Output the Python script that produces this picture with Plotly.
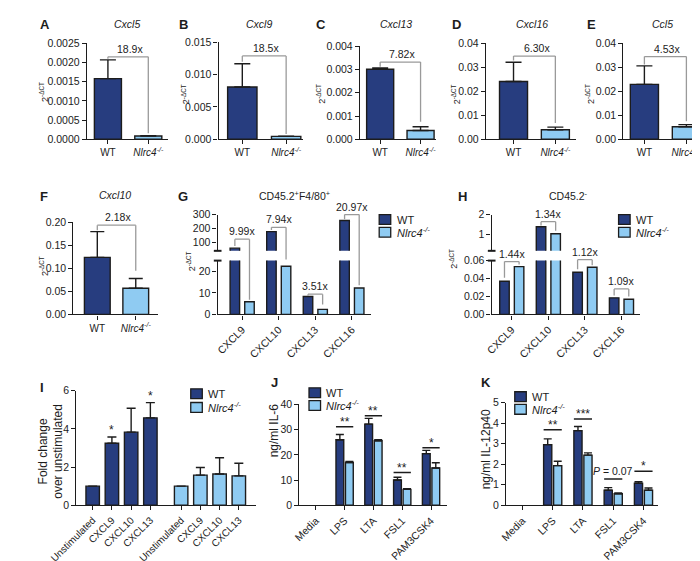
import plotly.graph_objects as go

W, H = 700, 561
WT_C = "#273d7f"
KO_C = "#8fcbf2"
INK = "#1c1c1c"
GRAY = "#9a9a9a"
FONT = "Liberation Sans, Arial, Helvetica, sans-serif"
KO_NAME = "<i>Nlrc4<sup>-/-</sup></i>"

# ---------------- data ----------------
genotypes = ["WT", KO_NAME]

cxcl5_mean = [0.00158, 0.000084]
cxcl5_err = [0.00049, 0.00001]
cxcl9_mean = [0.0081, 0.00044]
cxcl9_err = [0.0036, 0.00003]
cxcl13_mean = [0.00301, 0.00038]
cxcl13_err = [0.00006, 0.00016]
cxcl16_mean = [0.0241, 0.00395]
cxcl16_err = [0.0080, 0.0011]
ccl5_mean = [0.0229, 0.0052]
ccl5_err = [0.0077, 0.0009]
cxcl10_mean = [0.124, 0.057]
cxcl10_err = [0.056, 0.021]
fold_top = ["18.9x", "18.5x", "7.82x", "6.30x", "4.53x", "2.18x"]

chemokines = ["CXCL9", "CXCL10", "CXCL13", "CXCL16"]
g_wt = [59, 178, 8.3, 258]
g_ko = [5.9, 22.4, 2.36, 12.3]
g_fold = ["9.99x", "7.94x", "3.51x", "20.97x"]
h_wt = [0.037, 1.40, 0.047, 0.0185]
h_ko = [0.0533, 1.045, 0.0526, 0.0170]
h_fold = ["1.44x", "1.34x", "1.12x", "1.09x"]

stim_labels = ["Unstimulated", "CXCL9", "CXCL10", "CXCL13"]
i_wt = [1.0, 3.25, 3.83, 4.58]
i_wt_err = [0, 0.33, 1.25, 0.80]
i_ko = [1.0, 1.58, 1.64, 1.54]
i_ko_err = [0, 0.40, 0.85, 0.66]
i_stars_wt = ["", "*", "", "*"]

tlr_ligands = ["Media", "LPS", "LTA", "FSL1", "PAM3CSK4"]
il6_wt = [None, 26.0, 32.2, 10.0, 20.5]
il6_wt_err = [0, 2.1, 2.3, 1.1, 1.3]
il6_ko = [None, 17.0, 25.6, 6.3, 14.8]
il6_ko_err = [0, 0.4, 0.4, 0.3, 2.1]
il6_sig = ["", "**", "**", "**", "*"]
il12_wt = [None, 2.95, 3.63, 0.73, 1.07]
il12_wt_err = [0, 0.28, 0.20, 0.13, 0.08]
il12_ko = [None, 1.93, 2.44, 0.56, 0.73]
il12_ko_err = [0, 0.21, 0.11, 0.04, 0.11]
il12_sig = ["", "**", "***", "<i>P</i> = 0.07", "*"]

# ---------------- helpers ----------------
fig = go.Figure()
LAY = {}
shapes = []
anns = []
n_ax = [0]


def fx(p):
    return p / W


def fy(p):
    return 1 - p / H


def text(t, x, y, size=10.5, xanchor="center", yanchor="middle", angle=0, bold=False):
    if bold:
        t = f"<b>{t}</b>"
    anns.append(dict(text=t, x=fx(x), y=fy(y), xref="paper", yref="paper", showarrow=False,
                     xanchor=xanchor, yanchor=yanchor, textangle=angle,
                     font=dict(size=size, color=INK, family=FONT)))


def axes(xpx, ypx, xr, yr, yticks, yfmt, xcfg=None, show_x=True, xfont=10.5):
    n_ax[0] += 1
    n = n_ax[0]
    s = "" if n == 1 else str(n)
    tf = dict(size=10.5, color=INK, family=FONT)
    xa = dict(domain=[fx(xpx[0]), fx(xpx[1])], range=xr, anchor="y" + s, showgrid=False,
              zeroline=False, visible=show_x, showline=True, linecolor=INK, linewidth=1.4,
              ticks="outside", ticklen=4, tickwidth=1.2, tickcolor=INK,
              tickfont=dict(size=xfont, color=INK, family=FONT), fixedrange=True)
    if xcfg:
        xa.update(xcfg)
    ya = dict(domain=[fy(ypx[1]), fy(ypx[0])], range=yr, anchor="x" + s, showgrid=False,
              zeroline=False, showline=True, linecolor=INK, linewidth=1.4, ticks="outside",
              ticklen=4, tickwidth=1.2, tickcolor=INK, tickvals=yticks,
              ticktext=[format(v, yfmt) for v in yticks], tickfont=tf, fixedrange=True)
    LAY["xaxis" + s] = xa
    LAY["yaxis" + s] = ya
    return "x" + s, "y" + s


def line(xref, yref, x0, y0, x1, y1, color=GRAY, width=1.3):
    shapes.append(dict(type="line", xref=xref, yref=yref, x0=x0, y0=y0, x1=x1, y1=y1,
                       line=dict(color=color, width=width)))


def legend(sq_x, y_wt, y_ko, tx):
    for yy, col, lab in [(y_wt, WT_C, "WT"), (y_ko, KO_C, KO_NAME)]:
        shapes.append(dict(type="rect", xref="paper", yref="paper", x0=fx(sq_x), x1=fx(sq_x + 12),
                           y0=fy(yy + 10), y1=fy(yy), fillcolor=col, line=dict(color=INK, width=1.3)))
        text(lab, tx, yy + 5, size=11, xanchor="left")


def cat_cfg(cats, ang=0):
    return dict(type="category", categoryorder="array", categoryarray=cats, tickangle=ang)


# ---------------- top panels A-F ----------------
top = [
    ("A", (3, 11), "Cxcl5", (96, 10), (54, 138), (30, 128), [-0.52, 1.48], [0, 0.0025],
     [0, 0.0005, 0.001, 0.0015, 0.002, 0.0025], ".4f", cxcl5_mean, cxcl5_err, 0,
     (0.00215, 0.00210, 0.00016), (10, 80), 8),
    ("B", (148, 11), "Cxcl9", (233, 10), (191, 279), (29, 128), [-0.54, 1.39], [0, 0.015],
     [0, 0.005, 0.01, 0.015], ".3f", cxcl9_mean, cxcl9_err, 1,
     (0.0129, 0.0120, 0.0008), (157, 82), 8),
    ("C", (290, 11), "Cxcl13", (376, 10), (338, 417), (33, 128), [-0.5, 1.38], [0, 0.004],
     [0, 0.001, 0.002, 0.003, 0.004], ".3f", cxcl13_mean, cxcl13_err, 2,
     (0.00332, 0.00312, 0.00075), (298, 82), 8),
    ("D", (432, 11), "Cxcl16", (517, 10), (469, 563), (30, 128), [-0.66, 1.5], [0, 0.04],
     [0, 0.01, 0.02, 0.03, 0.04], ".2f", cxcl16_mean, cxcl16_err, 3,
     (0.0347, 0.0328, 0.0068), (438, 82), 8),
    ("E", (572, 11), "Ccl5", (653, 10), (612, 695), (30, 128), [-0.5, 1.4], [0, 0.04],
     [0, 0.01, 0.02, 0.03, 0.04], ".2f", ccl5_mean, ccl5_err, 4,
     (0.0345, 0.0312, 0.0075), (578, 82), 8),
    ("F", (3, 186), "Cxcl10", (83, 185), (40, 128), (213, 307), [-0.62, 1.58], [0, 0.2],
     [0, 0.05, 0.1, 0.15, 0.2], ".2f", cxcl10_mean, cxcl10_err, 5,
     (0.194, 0.183, 0.095), (10, 258), 7),
]

for (let, lpx, title, tpx, xpx, ypx, xr, yr, yt, fmt, mean, err, fi, br, ytpx, capw) in top:
    xa, ya = axes(xpx, ypx, xr, yr, yt, fmt, xcfg=cat_cfg(genotypes), xfont=10)
    fig.add_trace(go.Bar(x=genotypes, y=mean, width=0.67,
                         marker=dict(color=[WT_C, KO_C], line=dict(color=INK, width=1.4)),
                         error_y=dict(type="data", array=err, arrayminus=[0, 0], symmetric=False,
                                      color=INK, thickness=1.4, width=capw),
                         xaxis=xa, yaxis=ya, showlegend=False, hoverinfo="skip"))
    level, wt_end, ko_end = br
    line(xa, ya, 0, wt_end, 0, level)
    line(xa, ya, 0, level, 1, level)
    line(xa, ya, 1, level, 1, ko_end)
    anns.append(dict(text=fold_top[fi], x=0.55, y=level, xref=xa, yref=ya, showarrow=False,
                     yanchor="bottom", font=dict(size=10.5, color=INK, family=FONT)))
    text(let, lpx[0], lpx[1], size=13, xanchor="left", bold=True)
    text(f"<i>{title}</i>", tpx[0], tpx[1], size=10.5)
    text("2<sup>-ΔCT</sup>", ytpx[0], ytpx[1], size=9, angle=-90)

# ---------------- broken-axis panels G, H ----------------
LO_PX = (252, 307)
HI_PX = (205, 242)


def seg_paper(seg, v, lo_r, hi_r):
    r, px = (lo_r, LO_PX) if seg == "lo" else (hi_r, HI_PX)
    p = px[1] - (v - r[0]) / (r[1] - r[0]) * (px[1] - px[0])
    return fy(p)


def broken(xpx, xr, lo_r, lo_t, lo_f, hi_r, hi_t, hi_f, wt, ko, folds, brs):
    xl, yl = axes(xpx, LO_PX, xr, lo_r, lo_t, lo_f, xcfg=cat_cfg(chemokines, -45))
    xh, yh = axes(xpx, HI_PX, xr, hi_r, hi_t, hi_f, xcfg=cat_cfg(chemokines), show_x=False)
    for xa, ya in [(xl, yl), (xh, yh)]:
        fig.add_trace(go.Bar(x=chemokines, y=wt, width=0.26, offset=-0.33,
                             marker=dict(color=WT_C, line=dict(color=INK, width=1.4)),
                             xaxis=xa, yaxis=ya, showlegend=False, hoverinfo="skip"))
        fig.add_trace(go.Bar(x=chemokines, y=ko, width=0.26, offset=0.07,
                             marker=dict(color=KO_C, line=dict(color=INK, width=1.4)),
                             xaxis=xa, yaxis=ya, showlegend=False, hoverinfo="skip"))
    for i, (lev, le, re) in enumerate(brs):
        yl_ = seg_paper(*lev, lo_r, hi_r)
        line(xl, "paper", i - 0.2, seg_paper(*le, lo_r, hi_r), i - 0.2, yl_)
        line(xl, "paper", i - 0.2, yl_, i + 0.2, yl_)
        line(xl, "paper", i + 0.2, yl_, i + 0.2, seg_paper(*re, lo_r, hi_r))
        anns.append(dict(text=folds[i], x=i, y=yl_, xref=xl, yref="paper", showarrow=False,
                         yanchor="bottom", font=dict(size=10.5, color=INK, family=FONT)))
    # axis break marks
    for yy in (HI_PX[1], LO_PX[0]):
        shapes.append(dict(type="line", xref="paper", yref="paper", x0=fx(xpx[0] - 4),
                           x1=fx(xpx[0] + 4), y0=fy(yy), y1=fy(yy),
                           line=dict(color=INK, width=2)))


broken((190, 349), [-0.67, 3.51], [0, 25], [0, 10, 20], "d", [40, 300], [100, 200, 300], "d",
       g_wt, g_ko, g_fold,
       [(("hi", 124), ("hi", 75), ("lo", 6.8)),
        (("hi", 209), ("hi", 190), ("lo", 25.5)),
        (("lo", 9.4), ("lo", 8.7), ("lo", 4.6)),
        (("hi", 300), ("hi", 266), ("lo", 13.6))])
text("<b>G</b>", 147, 186, size=13, xanchor="left")
text("CD45.2<sup>+</sup>F4/80<sup>+</sup>", 270, 185, size=10.5)
text("2<sup>-ΔCT</sup>", 162, 253, size=9, angle=-90)
legend(358, 205, 218, 374)

broken((475, 629), [-0.55, 3.5], [0, 0.06], [0, 0.02, 0.04, 0.06], ".2f", [0.2, 2.0], [1, 2], "d",
       h_wt, h_ko, h_fold,
       [(("lo", 0.0589), ("lo", 0.041), ("lo", 0.0556)),
        (("hi", 1.65), ("hi", 1.46), ("hi", 1.2)),
        (("lo", 0.0610), ("lo", 0.0505), ("lo", 0.0548)),
        (("lo", 0.0284), ("lo", 0.0212), ("lo", 0.0200))])
text("<b>H</b>", 438, 186, size=13, xanchor="left")
text("CD45.2<sup>-</sup>", 555, 185, size=10.5)
text("2<sup>-ΔCT</sup>", 435, 250, size=9, angle=-90)
legend(607, 205, 218, 623)

# ---------------- panel I ----------------
wt_pos = [i for i in range(len(stim_labels))]
ko_pos = [i + 4.6 for i in range(len(stim_labels))]
xa, ya = axes((43, 230), (385, 502), [-0.85, 8.5], [0, 6], [0, 2, 4, 6], "d",
              xcfg=dict(tickvals=wt_pos + ko_pos, ticktext=stim_labels * 2, tickangle=-45),
              xfont=10)
for pos, vals, errs, col in [(wt_pos, i_wt, i_wt_err, WT_C), (ko_pos, i_ko, i_ko_err, KO_C)]:
    fig.add_trace(go.Bar(x=pos, y=vals, width=0.7,
                         marker=dict(color=col, line=dict(color=INK, width=1.4)),
                         error_y=dict(type="data", array=errs, arrayminus=[0] * len(errs),
                                      symmetric=False, color=INK, thickness=1.4, width=4.5),
                         xaxis=xa, yaxis=ya, showlegend=False, hoverinfo="skip"))
for p, v, e, s in zip(wt_pos, i_wt, i_wt_err, i_stars_wt):
    if s:
        anns.append(dict(text=s, x=p, y=v + e, xref=xa, yref=ya, showarrow=False,
                         yanchor="bottom", yshift=-2, font=dict(size=12, color=INK, family=FONT)))
text("<b>I</b>", 3, 382, size=13, xanchor="left")
text("Fold change<br>over unstimulated", 17, 447, size=12, angle=-90)
legend(162, 383, 397, 178)


# ---------------- panels J, K ----------------
def cyto(xpx, ypx, xr, yr, yt, wt, wte, ko, koe, sig, levels):
    xa, ya = axes(xpx, ypx, xr, yr, yt, "d", xcfg=cat_cfg(tlr_ligands, -45))
    for vals, errs, col, off in [(wt, wte, WT_C, -0.3), (ko, koe, KO_C, 0.03)]:
        fig.add_trace(go.Bar(x=tlr_ligands, y=vals, width=0.27, offset=off,
                             marker=dict(color=col, line=dict(color=INK, width=1.4)),
                             error_y=dict(type="data", array=errs, arrayminus=[0] * len(errs),
                                          symmetric=False, color=INK, thickness=1.4, width=4),
                             xaxis=xa, yaxis=ya, showlegend=False, hoverinfo="skip"))
    for i, (s, lv) in enumerate(zip(sig, levels)):
        if s:
            line(xa, ya, i - 0.3, lv, i + 0.3, lv, color=INK, width=1.5)
            star = s.startswith("*")
            anns.append(dict(text=s, x=i, y=lv, xref=xa, yref=ya, showarrow=False,
                             yanchor="bottom", yshift=-4 if star else 0,
                             font=dict(size=12 if star else 10.5, color=INK, family=FONT)))


cyto((275, 429), (399, 502), [-0.57, 4.57], [0, 40], [0, 10, 20, 30, 40],
     il6_wt, il6_wt_err, il6_ko, il6_ko_err, il6_sig, [None, 31.2, 35.5, 13.0, 22.8])
text("<b>J</b>", 243, 377, size=13, xanchor="left")
text("ng/ml IL-6", 248, 425, size=12, angle=-90)
legend(285, 382, 395, 301)

cyto((490, 648), (397, 502), [-0.54, 4.48], [0, 5], [0, 1, 2, 3, 4, 5],
     il12_wt, il12_wt_err, il12_ko, il12_ko_err, il12_sig, [None, 3.67, 4.2, 1.28, 1.65])
text("<b>K</b>", 462, 377, size=13, xanchor="left")
text("ng/ml IL-12p40", 470, 445, size=12, angle=-90)
legend(499, 386, 399, 515)

fig.update_layout(width=W, height=H, margin=dict(l=0, r=0, t=0, b=0), autosize=False,
                  plot_bgcolor="white", paper_bgcolor="white", barmode="overlay",
                  font=dict(family=FONT, color=INK), showlegend=False,
                  shapes=shapes, annotations=anns, **LAY)
fig.write_html("out.html")
